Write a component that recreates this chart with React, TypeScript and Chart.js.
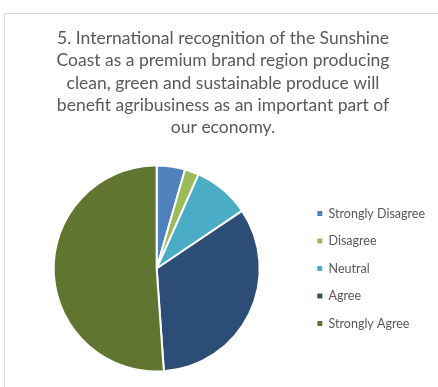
import React, { useEffect, useRef } from "react";
import { Chart, registerables } from "chart.js";

Chart.register(...registerables);

const titleLines = [
  "5. International recognition of the Sunshine",
  "Coast as a premium brand region producing",
  "clean, green and sustainable produce will",
  "benefit agribusiness as an important part of",
  "our economy.",
];
const categories = ["Strongly Disagree", "Disagree", "Neutral", "Agree", "Strongly Agree"];
const responses = [2, 1, 4, 15, 23];
const colors = ["#4F81BD", "#9BBB59", "#4BACC6", "#2C4D75", "#5F7530"];

const FONT = "Lato, 'Open Sans', sans-serif";

export default function App() {
  const ref = useRef<HTMLCanvasElement | null>(null);
  useEffect(() => {
    if (!ref.current) return;
    const chart = new Chart(ref.current, {
      type: "pie",
      data: {
        labels: categories,
        datasets: [
          {
            data: responses,
            backgroundColor: colors,
            borderColor: "#ffffff",
            borderWidth: 2,
          },
        ],
      },
      options: {
        animation: false,
        responsive: false,
        layout: { padding: { left: 7, right: 9, top: 0, bottom: 14.5 } },
        plugins: {
          title: {
            display: true,
            text: titleLines,
            color: "#595959",
            font: { family: FONT, size: 17.5, weight: "normal", lineHeight: 1.28 },
            padding: { top: 27, bottom: 25.5 },
          },
          legend: {
            position: "right",
            fullSize: false,
            labels: {
              boxWidth: 5,
              boxHeight: 5,
              padding: 15,
              color: "#595959",
              font: { family: FONT, size: 12.5 },
              generateLabels: (c: any) =>
                (Chart as any).overrides.pie.plugins.legend.labels
                  .generateLabels(c)
                  .map((l: any) => ({ ...l, lineWidth: 0, strokeStyle: "transparent" })),
            },
          },
          tooltip: { enabled: false },
        },
      },
    });
    return () => chart.destroy();
  }, []);
  return (
    <>
      <div
        style={{
          position: "fixed",
          left: 4,
          top: 13,
          width: 440,
          height: 380,
          border: "1px solid #d9d9d9",
          boxSizing: "border-box",
        }}
      />
      <canvas
        ref={ref}
        width={440}
        height={387}
        style={{ position: "fixed", left: 4, top: 0, width: 440, height: 387 }}
      />
    </>
  );
}
